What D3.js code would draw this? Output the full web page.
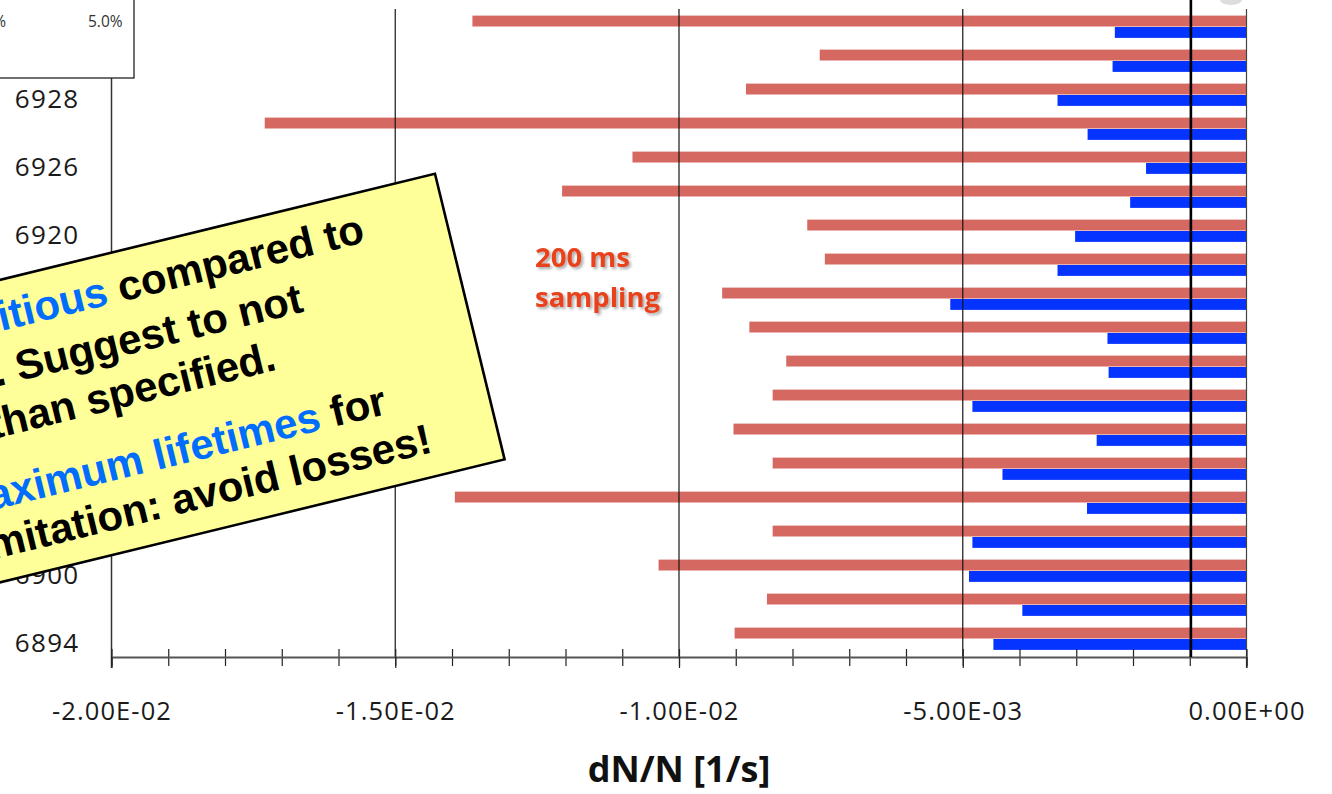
<!DOCTYPE html>
<html><head><meta charset="utf-8">
<script src="https://cdn.jsdelivr.net/npm/d3@7"></script>
<style>body{margin:0;background:#fff;overflow:hidden}</style>
</head><body>
<svg id="c" width="1332" height="794"></svg>
<script>
// ---- data (bottom category first, as in the source spreadsheet) ----
const fills = ["6894","6895","6900","6901","6904","6909","6911","6912","6913","6915","6918","6919","6920","6923","6926","6927","6928","6929","6931"];
const loss200ms = [-0.00902,-0.00845,-0.01036,-0.00835,-0.01395,-0.00835,-0.00904,-0.00835,-0.00811,-0.00876,-0.00924,-0.00743,-0.00774,-0.01206,-0.01082,-0.01730,-0.00882,-0.00752,-0.01364];
const lossAvg   = [-0.00446,-0.00395,-0.00489,-0.00483,-0.00281,-0.00430,-0.00264,-0.00483,-0.00243,-0.00245,-0.00522,-0.00333,-0.00302,-0.00205,-0.00177,-0.00280,-0.00333,-0.00236,-0.00232];
const seriesKeys = ["s200", "avg"];
const seriesColors = ["#D56860", "#0533FF"];
const xMajorTicks = [-0.02, -0.015, -0.01, -0.005, 0];
const xMinorStep = 0.001;
const thresholdValue = -0.00098;
const xTitle = "dN/N [1/s]";
const samplingNote = ["200 ms", "sampling"];
const legendTexts = ["2.5%", "5.0%"];

const rows = fills.map((f, i) => ({fill: f, s200: loss200ms[i], avg: lossAvg[i]}));

const svg = d3.select("#c");
const FONT = "'Open Sans', 'DejaVu Sans', sans-serif";

const x = d3.scaleLinear().domain([-0.02, 0]).range([111.5, 1246.5]);
const y = d3.scaleBand().domain(fills.slice().reverse()).range([10, 656]).paddingInner(0.33).paddingOuter(0.165);
const ys = d3.scaleBand().domain(seriesKeys).range([0, y.bandwidth()]).padding(0);

// ---- bars ----
const g = svg.append("g");
rows.forEach(r => {
  seriesKeys.forEach((k, si) => {
    g.append("rect")
      .attr("x", x(r[k]))
      .attr("y", y(r.fill) + ys(k))
      .attr("width", x(0) - x(r[k]))
      .attr("height", ys.bandwidth() - 0.5)
      .attr("fill", seriesColors[si]);
  });
});

// ---- gridlines ----
[-0.015, -0.01, -0.005].forEach(v => {
  svg.append("line").attr("x1", x(v)).attr("x2", x(v)).attr("y1", 9).attr("y2", 657)
    .attr("stroke", "#111").attr("stroke-width", 1.3).attr("opacity", 0.9);
});
// y axis line and right edge line
svg.append("line").attr("x1", x(-0.02)).attr("x2", x(-0.02)).attr("y1", 9).attr("y2", 668)
  .attr("stroke", "#333").attr("stroke-width", 1.5);
svg.append("line").attr("x1", x(0)).attr("x2", x(0)).attr("y1", 9).attr("y2", 668)
  .attr("stroke", "#444").attr("stroke-width", 1.2);

// ---- x axis ----
const fmt = v => {
  const [m, e] = d3.format(".2e")(v).replace(/\u2212/g, "-").split("e");
  const sign = e[0] === "-" ? "-" : "+";
  const ex = e.replace(/[+-]/, "").padStart(2, "0");
  return m + "E" + sign + ex;
};
const minor = d3.range(-0.02, 0.00001, xMinorStep);
const xMinorAxis = d3.axisBottom(x).tickValues(minor).tickSize(17).tickSizeOuter(0).tickFormat("");
const gMinor = svg.append("g").attr("transform", "translate(0,649)").call(xMinorAxis);
gMinor.select(".domain").remove();
gMinor.selectAll(".tick line").attr("stroke", "#222").attr("stroke-width", 1.2);

const xAxis = d3.axisBottom(x).tickValues(xMajorTicks).tickSize(11).tickSizeOuter(0).tickPadding(36).tickFormat(fmt);
const gx = svg.append("g").attr("transform", "translate(0,657)").call(xAxis);
gx.select(".domain").attr("stroke", "#555").attr("stroke-width", 2);
gx.selectAll(".tick line").attr("stroke", "#222").attr("stroke-width", 1.2);
gx.selectAll(".tick text").attr("font-family", FONT).attr("font-size", 25.5).attr("fill", "#1a1a1a")
  .attr("letter-spacing", 1.1).attr("dy", "0.71em").attr("y", 45);

svg.append("text").attr("x", 679).attr("y", 782).attr("text-anchor", "middle")
  .attr("font-family", FONT).attr("font-weight", 700).attr("font-size", 36).attr("fill", "#111").text(xTitle);

// ---- y axis labels (every second category) ----
const yAxis = d3.axisLeft(y).tickSize(0).tickPadding(32)
  .tickFormat(d => (fills.indexOf(d) % 2 === 0 ? d : ""));
const gy = svg.append("g").attr("transform", "translate(111.5,4.5)").call(yAxis);
gy.select(".domain").remove();
gy.selectAll(".tick text").attr("font-family", FONT).attr("font-size", 26).attr("fill", "#1a1a1a")
  .attr("letter-spacing", 1.3);

// ---- threshold line ----
svg.append("line").attr("x1", x(thresholdValue)).attr("x2", x(thresholdValue)).attr("y1", 0).attr("y2", 657)
  .attr("stroke", "#000").attr("stroke-width", 2.6);

// ---- 200 ms sampling note ----
const defs = svg.append("defs");
const f = defs.append("filter").attr("id", "sh").attr("x", "-20%").attr("y", "-20%").attr("width", "140%").attr("height", "160%");
f.append("feDropShadow").attr("dx", 2).attr("dy", 2).attr("stdDeviation", 1.6).attr("flood-color", "#000").attr("flood-opacity", 0.35);
samplingNote.forEach((t, i) => {
  svg.append("text").attr("x", 535).attr("y", 267 + i * 39.5)
    .attr("font-family", FONT).attr("font-weight", 700).attr("font-size", 27.5)
    .attr("fill", "#E8431E").attr("filter", "url(#sh)").text(t);
});

// small grey artefact top right
svg.append("ellipse").attr("cx", 1231).attr("cy", 0).attr("rx", 11).attr("ry", 5).attr("fill", "#ddd");

// ---- inset legend box (top-left, cropped) ----
svg.append("rect").attr("x", -2).attr("y", -2).attr("width", 136).attr("height", 80)
  .attr("fill", "#fff").attr("stroke", "#222").attr("stroke-width", 1.3);
svg.append("text").attr("x", 6).attr("y", 27).attr("text-anchor", "end")
  .attr("font-family", FONT).attr("font-size", 15.5).attr("fill", "#333").text(legendTexts[0]);
svg.append("text").attr("x", 88).attr("y", 27)
  .attr("font-family", FONT).attr("font-size", 15.5).attr("fill", "#333").text(legendTexts[1]);

// ---- rotated yellow note ----
const BLUE = "#006DFF";
const noteLines = [
  {end: -82, base: 50, parts: [["Lifetimes seem ", "#000"], ["ambitious", BLUE], [" compared to", "#000"]]},
  {end: -158, base: 103, parts: [["what was seen in MDs. Suggest to not", "#000"]]},
  {end: -198, base: 153, parts: [["to request more than specified.", "#000"]]},
  {end: -101, base: 222, parts: [["Request ", "#000"], ["Maximum lifetimes", BLUE], [" for", "#000"]]},
  {end: -66, base: 270, parts: [["the luminosity limitation: avoid losses!", "#000"]]}
];
const note = svg.append("g").attr("transform", "translate(434,174) rotate(-13.7)");
note.append("rect").attr("x", -1200).attr("y", 0).attr("width", 1201).attr("height", 294)
  .attr("fill", "#FFFF99").attr("stroke", "#000").attr("stroke-width", 2.6);
noteLines.forEach(l => {
  const t = note.append("text").attr("x", l.end).attr("y", l.base).attr("text-anchor", "end")
    .attr("font-family", "'Liberation Sans', Arial, sans-serif").attr("font-weight", 700).attr("font-size", 42);
  l.parts.forEach(p => t.append("tspan").attr("fill", p[1]).text(p[0]));
});
</script>
</body></html>
